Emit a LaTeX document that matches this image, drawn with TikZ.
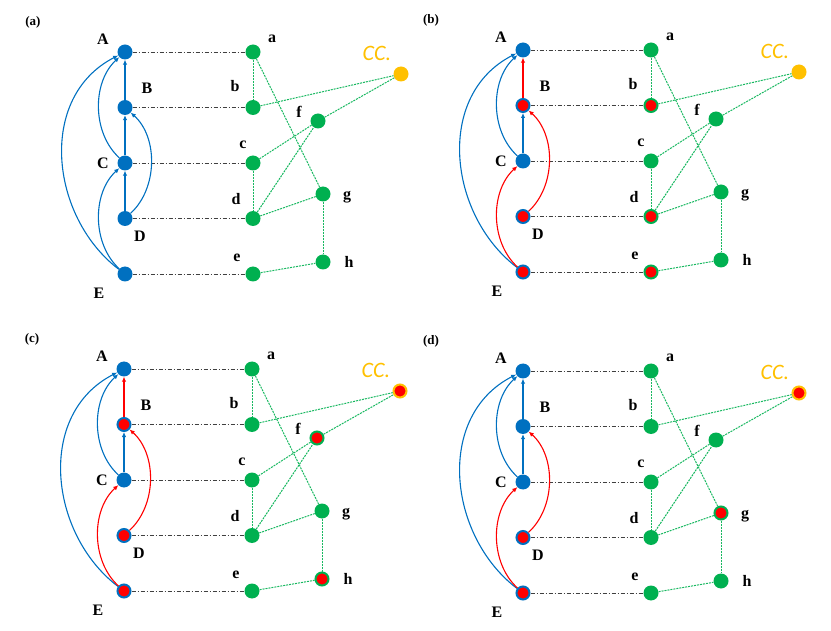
\documentclass[tikz,border=0pt]{standalone}
\usepackage{fontspec}
\setmainfont{Liberation Serif}
\newfontfamily\ccfont{Carlito}
\usetikzlibrary{arrows.meta}
\definecolor{nblue}{RGB}{0,112,192}
\definecolor{ngreen}{RGB}{0,176,80}
\definecolor{nred}{RGB}{255,0,0}
\definecolor{nyellow}{RGB}{255,192,0}
\definecolor{dgray}{RGB}{64,64,64}
\tikzset{
 bnode/.style={circle,fill=nblue,inner sep=0pt,minimum size=15pt},
 bred/.style={circle,fill=nred,draw=nblue,line width=2pt,inner sep=0pt,minimum size=13pt},
 gnode/.style={circle,fill=ngreen,inner sep=0pt,minimum size=15pt},
 gred/.style={circle,fill=nred,draw=ngreen,line width=2pt,inner sep=0pt,minimum size=13pt},
 ynode/.style={circle,fill=nyellow,inner sep=0pt,minimum size=15pt},
 yred/.style={circle,fill=nred,draw=nyellow,line width=2pt,inner sep=0pt,minimum size=13pt},
 lbl/.style={font=\bfseries\fontsize{16}{16}\selectfont,inner sep=0pt},
 plbl/.style={font=\bfseries\fontsize{13}{13}\selectfont,inner sep=0pt},
 cclbl/.style={font=\ccfont\itshape\fontsize{22}{22}\selectfont,text=nyellow,inner sep=0pt},
 hlink/.style={draw=dgray,line width=0.7pt,dash pattern=on 4pt off 2pt on 1pt off 2pt},
 glink/.style={draw=ngreen!90!white,line width=1pt,dash pattern=on 2pt off 1pt},
 arr/.style={line width=1.1pt,-{Latex[length=5pt,width=4.5pt]}},
 eblue/.style={arr,draw=nblue},
 ered/.style={arr,draw=nred},
 stA/.style={bnode}, stB/.style={bnode}, stC/.style={bnode}, stD/.style={bnode}, stE/.style={bnode},
 sta/.style={gnode}, stb/.style={gnode}, stc/.style={gnode}, std/.style={gnode}, ste/.style={gnode},
 stf/.style={gnode}, stg/.style={gnode}, sth/.style={gnode}, stcc/.style={ynode},
 eBA/.style={eblue}, eCB/.style={eblue}, eCA/.style={eblue}, eEA/.style={eblue},
 eEC/.style={eblue}, eDB/.style={eblue},
}
\newcommand\panelbody[1]{%
 \node[plbl] (lp) at (-92,-30) {(#1)};
 \node[stA] (A) at (0,0) {};
 \node[stB] (B) at (0,55.5) {};
 \node[stC] (C) at (0,111) {};
 \node[stD] (D) at (0,166.5) {};
 \node[stE] (E) at (0,222) {};
 \node[sta] (a) at (128,0) {};
 \node[stb] (b) at (128,55.5) {};
 \node[stc] (c) at (128,111) {};
 \node[std] (d) at (128,166.5) {};
 \node[ste] (e) at (128,222) {};
 \node[stf] (f) at (193,69) {};
 \node[stg] (g) at (198,142) {};
 \node[sth] (h) at (198,210) {};
 \node[stcc] (cc) at (276,22) {};
 \node[lbl] (lA) at (-22,-13) {A};
 \node[lbl] (lB) at (22,36.5) {B};
 \node[lbl] (lC) at (-22,111) {C};
 \node[lbl] (lD) at (15,184.5) {D};
 \node[lbl] (lE) at (-26,241) {E};
 \node[lbl] (la) at (147,-13) {a};
 \node[lbl] (lb) at (110,34.5) {b};
 \node[lbl] (lc) at (118,93) {c};
 \node[lbl] (ld) at (111,147.5) {d};
 \node[lbl] (le) at (112,206) {e};
 \node[lbl] (lf) at (174,60) {f};
 \node[lbl] (lg) at (222,145) {g};
 \node[lbl] (lh) at (224,210) {h};
 \node[cclbl] (lcc) at (252,1) {CC.};
 \draw[hlink] (A) -- (a);
 \draw[hlink] (B) -- (b);
 \draw[hlink] (C) -- (c);
 \draw[hlink] (D) -- (d);
 \draw[hlink] (E) -- (e);
 \draw[glink] (a) -- (b);
 \draw[glink] (a) -- (g);
 \draw[glink] (b) -- (cc);
 \draw[glink] (f) -- (cc);
 \draw[glink] (c) -- (f);
 \draw[glink] (d) -- (f);
 \draw[glink] (c) -- (d);
 \draw[glink] (d) -- (g);
 \draw[glink] (g) -- (h);
 \draw[glink] (e) -- (h);
 \draw[eBA] (B) -- (A);
 \draw[eCB] (C) -- (B);
 \draw[eCA] (C) .. controls (-33,81) and (-33,30) .. (A);
 \draw[eEA] (E) .. controls (-75,165) and (-88,45) .. (A);
 \draw[eEC] (E) .. controls (-33,192) and (-33,141) .. (C);
 \draw[eDB] (D) .. controls (33,136) and (33,85) .. (B);
}
\begin{document}
\begin{tikzpicture}[x=1pt,y=-1pt]
\useasboundingbox (0,0) rectangle (831,631);
\begin{scope}[shift={(125,52)},name prefix=pa-]
 \panelbody{a}
 \draw[eblue] (D) -- (C);
\end{scope}
\begin{scope}[shift={(523,50)},name prefix=pb-,
 stB/.style={bred}, stD/.style={bred}, stE/.style={bred},
 stb/.style={gred}, std/.style={gred}, ste/.style={gred},
 eBA/.style={ered}, eEC/.style={ered}, eDB/.style={ered}]
 \panelbody{b}
\end{scope}
\begin{scope}[shift={(124,369)},name prefix=pc-,
 stB/.style={bred}, stD/.style={bred}, stE/.style={bred},
 stf/.style={gred}, sth/.style={gred}, stcc/.style={yred},
 eBA/.style={ered}, eEC/.style={ered}, eDB/.style={ered}]
 \panelbody{c}
\end{scope}
\begin{scope}[shift={(523,371)},name prefix=pd-,
 stD/.style={bred}, stE/.style={bred},
 stg/.style={gred}, stcc/.style={yred},
 eEC/.style={ered}, eDB/.style={ered}]
 \panelbody{d}
\end{scope}
\end{tikzpicture}
\end{document}
